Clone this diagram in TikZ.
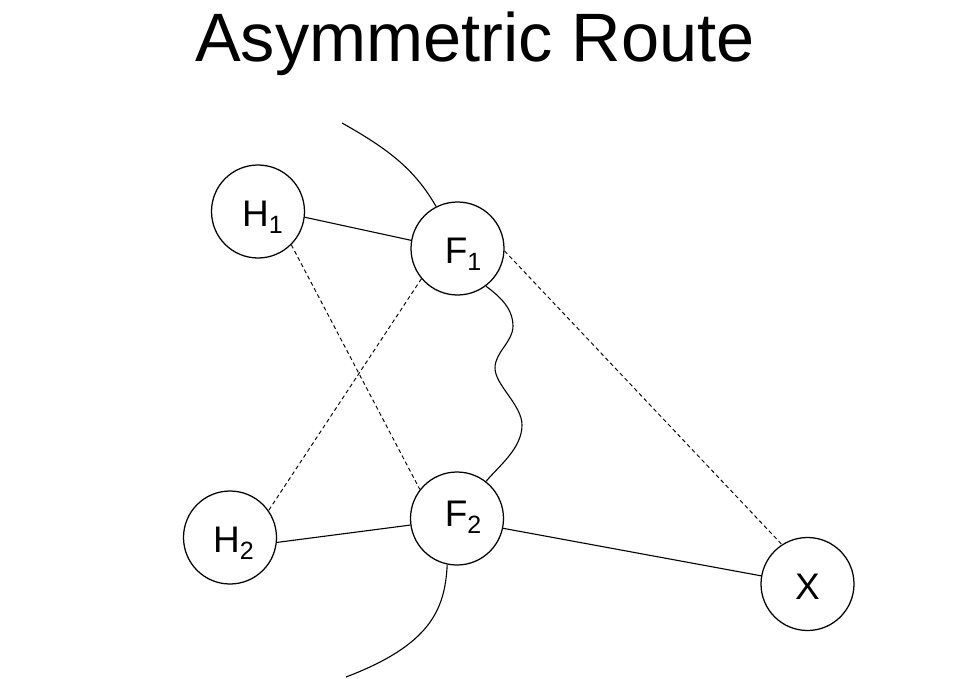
\documentclass[tikz,border=0pt]{standalone}
\usepackage{fontspec}
\setmainfont{Liberation Sans}
\newcommand{\sbs}[1]{\raisebox{-7pt}{\fontsize{25}{25}\selectfont #1}}
\begin{document}
\begin{tikzpicture}[x=1pt,y=-1pt,
  station/.style={circle,draw,line width=1.25pt,minimum size=93pt,inner sep=0pt,
    font=\fontsize{37}{37}\selectfont,text height=30pt,text depth=0pt},
  link/.style={line width=1.1pt},
  dlink/.style={line width=0.95pt,dash pattern=on 4pt off 3pt},
]
\useasboundingbox (0,0) rectangle (955,679);
\node[anchor=base,font=\fontsize{68.5}{68.5}\selectfont] (title) at (475,62) {Asymmetric Route};
\node[station] (H1) at (258,211.5) {\kern9pt H\sbs{1}};
\node[station] (F1) at (457.5,248.5) {\kern11pt F\sbs{1}};
\node[station] (H2) at (230,537.5) {\kern7pt H\sbs{2}};
\node[station,text height=28pt,text depth=13pt] (F2) at (457,518.5) {\kern12pt F\sbs{2}};
\node[station] (X) at (807.5,584) {X};
\coordinate (t0) at (342,123);
\coordinate (b0) at (346,677);
\coordinate (w1) at (513,326);
\coordinate (w2) at (495,368);
\coordinate (w3) at (522,425);
\draw[link] (H1.-7) -- (F1.170);
\draw[link] (H2.-6) -- (F2.188);
\draw[link] (F2.-12) -- (X.170);
\draw[dlink] (H1.-45) -- (F2.142);
\draw[dlink] (F1.220) -- (H2.35);
\draw[dlink] (F1.-3) -- (X.123);
\draw[link] (t0) .. controls (390,150) and (415,170) .. (F1.117);
\draw[link] (F2.-102) .. controls (445,610) and (430,645) .. (b0);
\draw[link] (F1.-53) .. controls (505,300) and (513,312) .. (w1)
  .. controls (513,342) and (495,352) .. (w2)
  .. controls (495,385) and (522,405) .. (w3)
  .. controls (522,448) and (500,465) .. (F2.52);
\end{tikzpicture}
\end{document}
